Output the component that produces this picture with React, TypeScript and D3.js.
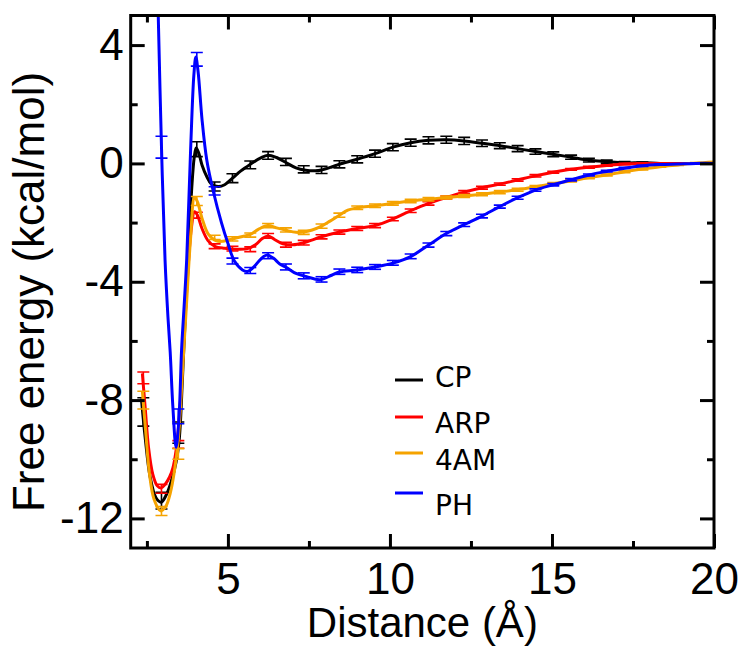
import React, { useEffect, useRef } from "react";
import * as d3 from "d3";

// error bar positions (Å), shared by all four profiles
const barX = [2.39, 2.95, 3.47, 4.04, 4.59, 5.14, 5.69, 6.24, 6.79, 7.34, 7.89, 8.44, 8.99, 9.54, 10.09, 10.64, 11.19, 11.74, 12.29, 12.84, 13.39, 13.94, 14.49, 15.04, 15.59, 16.14, 16.69, 17.24, 17.79, 18.34, 18.89, 19.44];

const cpLine = [[2.33, -7.95], [2.45, -9.3], [2.6, -10.6], [2.78, -11.3], [2.94, -11.45], [3.1, -11.2], [3.25, -10.75], [3.4, -10.1], [3.5, -9.3], [3.6, -7.2], [3.75, -3.6], [3.88, -0.9], [3.96, 0.2], [4.02, 0.52], [4.1, 0.35], [4.2, -0.05], [4.35, -0.45], [4.5, -0.7], [4.7, -0.78], [4.9, -0.72], [5.14, -0.5], [5.4, -0.25], [5.69, -0.03], [6.0, 0.18], [6.24, 0.28], [6.5, 0.2], [6.79, 0.03], [7.1, -0.15], [7.4, -0.23], [7.7, -0.25], [7.89, -0.22], [8.2, -0.12], [8.44, -0.03], [8.99, 0.14], [9.54, 0.33], [10.09, 0.55], [10.64, 0.7], [11.19, 0.78], [11.74, 0.8], [12.29, 0.76], [12.84, 0.68], [13.39, 0.6], [13.94, 0.5], [14.49, 0.4], [15.04, 0.31], [15.59, 0.21], [16.14, 0.11], [16.69, 0.06], [17.24, 0.02], [17.79, 0.02], [18.34, 0.0], [18.89, 0], [19.44, 0], [20, 0]];
const cpBarY = [-8.4, -11.4, -9.1, 0.48, -0.78, -0.5, -0.05, 0.27, 0.05, -0.2, -0.22, -0.03, 0.14, 0.33, 0.55, 0.7, 0.78, 0.8, 0.76, 0.68, 0.6, 0.5, 0.4, 0.31, 0.21, 0.11, 0.06, 0.02, 0.02, 0, 0, 0];
const cpBarErr = [0.48, 0.28, 0.36, 0.25, 0.15, 0.15, 0.13, 0.13, 0.12, 0.12, 0.12, 0.12, 0.12, 0.12, 0.12, 0.12, 0.12, 0.12, 0.12, 0.11, 0.1, 0.1, 0.09, 0.08, 0.07, 0.06, 0.05, 0.04, 0.03, 0.02, 0.02, 0.01];

const arpLine = [[2.36, -7.1], [2.45, -8.3], [2.55, -9.6], [2.68, -10.5], [2.82, -10.9], [2.94, -10.97], [3.06, -10.85], [3.2, -10.6], [3.3, -10.3], [3.4, -9.7], [3.5, -8.6], [3.62, -6.3], [3.75, -3.9], [3.87, -2.2], [3.97, -1.63], [4.06, -1.75], [4.2, -2.2], [4.38, -2.6], [4.59, -2.8], [4.9, -2.87], [5.3, -2.9], [5.6, -2.88], [5.85, -2.75], [6.05, -2.55], [6.24, -2.45], [6.45, -2.58], [6.7, -2.72], [7.0, -2.75], [7.34, -2.68], [7.89, -2.48], [8.44, -2.32], [8.99, -2.2], [9.54, -2.1], [10.09, -1.88], [10.64, -1.6], [11.19, -1.35], [11.74, -1.15], [12.29, -0.97], [12.84, -0.82], [13.39, -0.7], [13.94, -0.56], [14.49, -0.42], [15.04, -0.3], [15.59, -0.2], [16.14, -0.13], [16.69, -0.07], [17.24, -0.02], [17.79, 0], [18.34, 0], [19.0, 0], [20, 0]];
const arpBarY = [-7.25, -11.0, -9.5, -1.75, -2.8, -2.88, -2.9, -2.45, -2.75, -2.68, -2.48, -2.32, -2.2, -2.1, -1.88, -1.6, -1.35, -1.15, -0.97, -0.82, -0.7, -0.56, -0.42, -0.3, -0.2, -0.13, -0.07, -0.02, 0, 0, 0, 0];
const arpBarErr = [0.2, 0.15, 0.13, 0.1, 0.08, 0.08, 0.08, 0.08, 0.08, 0.08, 0.07, 0.07, 0.07, 0.07, 0.06, 0.06, 0.06, 0.05, 0.05, 0.05, 0.04, 0.04, 0.04, 0.03, 0.03, 0.03, 0.02, 0.02, 0.02, 0.01, 0.01, 0.01];

const amLine = [[2.36, -7.7], [2.45, -8.9], [2.58, -10.5], [2.72, -11.35], [2.92, -11.74], [3.08, -11.6], [3.22, -11.15], [3.35, -10.4], [3.47, -9.3], [3.6, -7.0], [3.72, -4.8], [3.85, -2.5], [3.97, -1.15], [4.06, -1.3], [4.2, -1.85], [4.4, -2.4], [4.65, -2.62], [4.85, -2.63], [5.14, -2.55], [5.45, -2.47], [5.69, -2.4], [5.95, -2.22], [6.24, -2.1], [6.5, -2.18], [6.79, -2.26], [7.1, -2.33], [7.34, -2.32], [7.6, -2.25], [7.89, -2.12], [8.15, -1.95], [8.44, -1.75], [8.7, -1.58], [8.99, -1.5], [9.54, -1.43], [10.09, -1.35], [10.64, -1.27], [11.19, -1.21], [11.74, -1.15], [12.29, -1.1], [12.84, -1.04], [13.39, -0.97], [13.94, -0.89], [14.49, -0.79], [15.04, -0.69], [15.59, -0.59], [16.14, -0.48], [16.69, -0.39], [17.24, -0.28], [17.79, -0.19], [18.34, -0.11], [18.89, -0.05], [19.44, 0.01], [20, 0.05]];
const amBarY = [-8.0, -11.75, -9.82, -1.27, -2.5, -2.55, -2.42, -2.1, -2.25, -2.33, -2.12, -1.75, -1.5, -1.43, -1.35, -1.27, -1.21, -1.15, -1.1, -1.04, -0.97, -0.89, -0.79, -0.69, -0.59, -0.48, -0.39, -0.28, -0.19, -0.11, -0.05, 0.01];
const amBarErr = [0.3, 0.15, 0.18, 0.15, 0.07, 0.07, 0.07, 0.07, 0.07, 0.07, 0.07, 0.07, 0.06, 0.06, 0.06, 0.06, 0.06, 0.05, 0.05, 0.05, 0.05, 0.05, 0.04, 0.04, 0.04, 0.04, 0.03, 0.03, 0.03, 0.02, 0.02, 0.02];

const phLine = [[2.7, 12], [2.78, 8.0], [2.85, 5.0], [2.95, 0.55], [3.06, -3.27], [3.15, -5.2], [3.22, -6.4], [3.3, -8.2], [3.4, -9.6], [3.49, -8.6], [3.57, -6.3], [3.65, -4.8], [3.73, -3.2], [3.85, 0.5], [3.95, 3.0], [4.01, 3.6], [4.08, 3.1], [4.2, 1.5], [4.35, 0.1], [4.55, -0.95], [4.8, -2.0], [5.0, -2.7], [5.2, -3.3], [5.45, -3.6], [5.6, -3.65], [5.8, -3.5], [6.0, -3.25], [6.19, -3.1], [6.4, -3.2], [6.6, -3.4], [6.81, -3.52], [7.1, -3.72], [7.43, -3.83], [7.84, -3.93], [8.2, -3.78], [8.44, -3.67], [8.99, -3.6], [9.54, -3.5], [10.09, -3.37], [10.64, -3.15], [11.19, -2.76], [11.74, -2.37], [12.29, -2.07], [12.84, -1.78], [13.39, -1.46], [13.94, -1.16], [14.49, -0.9], [15.04, -0.72], [15.59, -0.55], [16.14, -0.39], [16.69, -0.27], [17.24, -0.16], [17.79, -0.08], [18.34, -0.04], [18.89, -0.02], [19.44, 0], [20, 0]];
const phBarY = [null, 0.55, -8.55, 3.52, -0.93, -3.3, -3.62, -3.12, -3.5, -3.8, -3.92, -3.66, -3.6, -3.5, -3.36, -3.14, -2.76, -2.37, -2.07, -1.78, -1.46, -1.16, -0.9, -0.72, -0.55, -0.39, -0.26, -0.15, -0.08, -0.04, -0.02, 0];
const phBarErr = [0, 0.37, 0.25, 0.23, 0.14, 0.1, 0.1, 0.1, 0.1, 0.1, 0.09, 0.09, 0.09, 0.08, 0.08, 0.08, 0.07, 0.07, 0.06, 0.06, 0.05, 0.05, 0.04, 0.04, 0.04, 0.03, 0.03, 0.02, 0.02, 0.02, 0.01, 0.01];

const names = ["CP", "ARP", "4AM", "PH"];
const colors = ["#000000", "#ff0000", "#f5a300", "#0000ff"];
const xMajor = [5, 10, 15, 20];
const xMinor = [2.5, 7.5, 12.5, 17.5];
const yMajor = [-12, -8, -4, 0, 4];
const yMinor = [-10, -6, -2, 2];

export default function App() {
  const svgRef = useRef(null);

  useEffect(() => {
    const svg = d3.select(svgRef.current);
    svg.selectAll("*").remove();

    const left = 130.7, right = 714, top = 15.5, bottom = 548;
    const x = d3.scaleLinear().domain([2, 20]).range([left, right]);
    const y = d3.scaleLinear().domain([-13, 5]).range([bottom, top]);

    const series = [
      { line: cpLine, barY: cpBarY, barErr: cpBarErr },
      { line: arpLine, barY: arpBarY, barErr: arpBarErr },
      { line: amLine, barY: amBarY, barErr: amBarErr },
      { line: phLine, barY: phBarY, barErr: phBarErr },
    ];

    svg.append("defs").append("clipPath").attr("id", "plotClip")
      .append("rect")
      .attr("x", left).attr("y", top)
      .attr("width", right - left).attr("height", bottom - top);

    const line = d3.line()
      .x((d) => x(d[0]))
      .y((d) => y(d[1]))
      .curve(d3.curveCatmullRom.alpha(0.5));

    const plot = svg.append("g").attr("clip-path", "url(#plotClip)");

    series.forEach((s, i) => {
      const g = plot.append("g");
      const bars = barX
        .map((bx, j) => ({ x: bx, y: s.barY[j], e: s.barErr[j] }))
        .filter((b) => b.y !== null);

      // error bars
      bars.forEach((b) => {
        const px = x(b.x);
        const y0 = y(b.y + b.e);
        const y1 = y(b.y - b.e);
        g.append("line").attr("x1", px).attr("x2", px).attr("y1", y0).attr("y2", y1)
          .attr("stroke", colors[i]).attr("stroke-width", 1.6);
        [y0, y1].forEach((cy) => {
          g.append("line").attr("x1", px - 6).attr("x2", px + 6).attr("y1", cy).attr("y2", cy)
            .attr("stroke", colors[i]).attr("stroke-width", 1.6);
        });
      });

      g.append("path")
        .datum(s.line)
        .attr("fill", "none")
        .attr("stroke", colors[i])
        .attr("stroke-width", 3)
        .attr("stroke-linejoin", "round")
        .attr("d", line);
    });

    const font = "'Liberation Sans', Arial, sans-serif";

    // axes: major (labelled) and minor ticks, inward on all four sides
    const styleAxis = (g) => {
      g.select(".domain").remove();
      g.selectAll("line").attr("stroke", "#000").attr("stroke-width", 3);
      g.selectAll("text").attr("fill", "#000").style("font-family", font).style("font-size", "44px");
    };

    svg.append("g").attr("transform", `translate(0,${bottom})`)
      .call(d3.axisBottom(x).tickValues(xMajor).tickSize(-14).tickPadding(15).tickFormat(d3.format("d")))
      .call(styleAxis);
    svg.append("g").attr("transform", `translate(0,${bottom})`)
      .call(d3.axisBottom(x).tickValues(xMinor).tickSize(-7).tickFormat(() => ""))
      .call(styleAxis);
    svg.append("g").attr("transform", `translate(0,${top})`)
      .call(d3.axisTop(x).tickValues(xMajor).tickSize(-14).tickFormat(() => ""))
      .call(styleAxis);
    svg.append("g").attr("transform", `translate(0,${top})`)
      .call(d3.axisTop(x).tickValues(xMinor).tickSize(-7).tickFormat(() => ""))
      .call(styleAxis);

    svg.append("g").attr("transform", `translate(${left},0)`)
      .call(d3.axisLeft(y).tickValues(yMajor).tickSize(-14).tickPadding(7).tickFormat((d) => String(d).replace("−", "-")))
      .call(styleAxis);
    svg.append("g").attr("transform", `translate(${left},0)`)
      .call(d3.axisLeft(y).tickValues(yMinor).tickSize(-7).tickFormat(() => ""))
      .call(styleAxis);
    svg.append("g").attr("transform", `translate(${right},0)`)
      .call(d3.axisRight(y).tickValues(yMajor).tickSize(-14).tickFormat(() => ""))
      .call(styleAxis);
    svg.append("g").attr("transform", `translate(${right},0)`)
      .call(d3.axisRight(y).tickValues(yMinor).tickSize(-7).tickFormat(() => ""))
      .call(styleAxis);

    // frame
    svg.append("rect")
      .attr("x", left).attr("y", top)
      .attr("width", right - left).attr("height", bottom - top)
      .attr("fill", "none").attr("stroke", "#000").attr("stroke-width", 3);

    // axis titles
    svg.append("text")
      .attr("x", (left + right) / 2).attr("y", 637)
      .attr("text-anchor", "middle")
      .style("font-family", font).style("font-size", "42px")
      .text("Distance (Å)");

    svg.append("text")
      .attr("transform", `translate(43.5,292) rotate(-90)`)
      .attr("text-anchor", "middle")
      .style("font-family", font).style("font-size", "44px")
      .text("Free energy (kcal/mol)");

    // legend
    const legendLineY = [380, 417, 453, 493];
    const legendTextY = [377, 423, 460, 505];
    names.forEach((n, i) => {
      svg.append("line")
        .attr("x1", 395).attr("x2", 423)
        .attr("y1", legendLineY[i]).attr("y2", legendLineY[i])
        .attr("stroke", colors[i]).attr("stroke-width", 3);
      svg.append("text")
        .attr("x", 435).attr("y", legendTextY[i])
        .attr("dy", "0.36em")
        .style("font-family", "'DejaVu Sans', sans-serif")
        .style("font-size", "28px")
        .attr("fill", "#000")
        .text(n);
    });
  }, []);

  return (
    <svg
      ref={svgRef}
      width={739}
      height={646}
      style={{ position: "absolute", left: 0, top: 0, background: "#fff" }}
    />
  );
}
